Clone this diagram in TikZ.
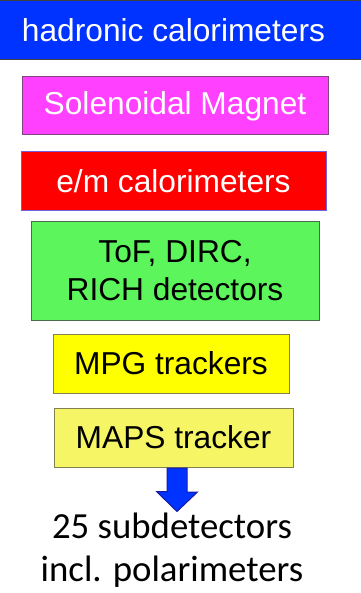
\documentclass[tikz,border=0pt]{standalone}
\usepackage{fontspec}
\setmainfont{Liberation Sans}
\newfontfamily\calibfont{Carlito}
\usetikzlibrary{calc}

\definecolor{hadblue}{HTML}{0033FF}
\definecolor{magfill}{HTML}{FF40FF}
\definecolor{magline}{HTML}{804480}
\definecolor{emline}{HTML}{7060E0}
\definecolor{pidfill}{HTML}{5CF55C}
\definecolor{pidline}{HTML}{4A6A4A}
\definecolor{mpgfill}{HTML}{FFFF00}
\definecolor{mapsfill}{HTML}{F5F565}
\definecolor{trkline}{HTML}{808050}
\definecolor{arrline}{HTML}{1A1AA0}

\tikzset{
  layer/.style={draw, line width=1pt, inner sep=0pt, minimum height=59pt,
    font=\fontsize{31.7}{38}\selectfont, align=center},
}

\begin{document}
\begin{tikzpicture}[x=1pt,y=-1pt]
    \useasboundingbox (0,0) rectangle (360,593);

    \node (had) [layer, fill=hadblue, draw=black!75, text=white, minimum width=378pt] at (173.5,30) {hadronic calorimeters};
    \node (sol) [layer, fill=magfill, draw=magline, text=white, minimum width=306pt, minimum height=58pt] at (175,106) {Solenoidal Magnet};
    \node (em) [layer, fill=red, draw=emline, text=white, minimum width=305pt] at (173.5,181.5) {e/m calorimeters};
    \node (pid) [layer, fill=pidfill, draw=pidline, minimum width=288pt, minimum height=98pt] at (175,271) {ToF, DIRC,\\RICH detectors};
    \node (mpg) [layer, fill=mpgfill, draw=trkline, minimum width=236pt] at (171,363.5) {MPG trackers};
    \node (maps) [layer, fill=mapsfill, draw=trkline, minimum width=239pt] at (173.5,437.5) {MAPS tracker};

    \node (total) [font=\calibfont\fontsize{36.8}{43}\selectfont, align=center, inner sep=0pt]
      at (172,550) {25 subdetectors\\incl. polarimeters};

    % block arrow from the innermost layer down to the summary
    \coordinate (tip) at ($(maps.south)+(3.5,44)$);
    \filldraw [fill=hadblue, draw=arrline, line width=1pt, line join=miter]
      ($(maps.south)+(-6.5,0.5)$) -- ++(20,0) -- ++(0,24) -- ++(10.5,0)
      -- (tip) -- ++(-20.5,-20) -- ++(10.5,0) -- cycle;
\end{tikzpicture}
\end{document}
